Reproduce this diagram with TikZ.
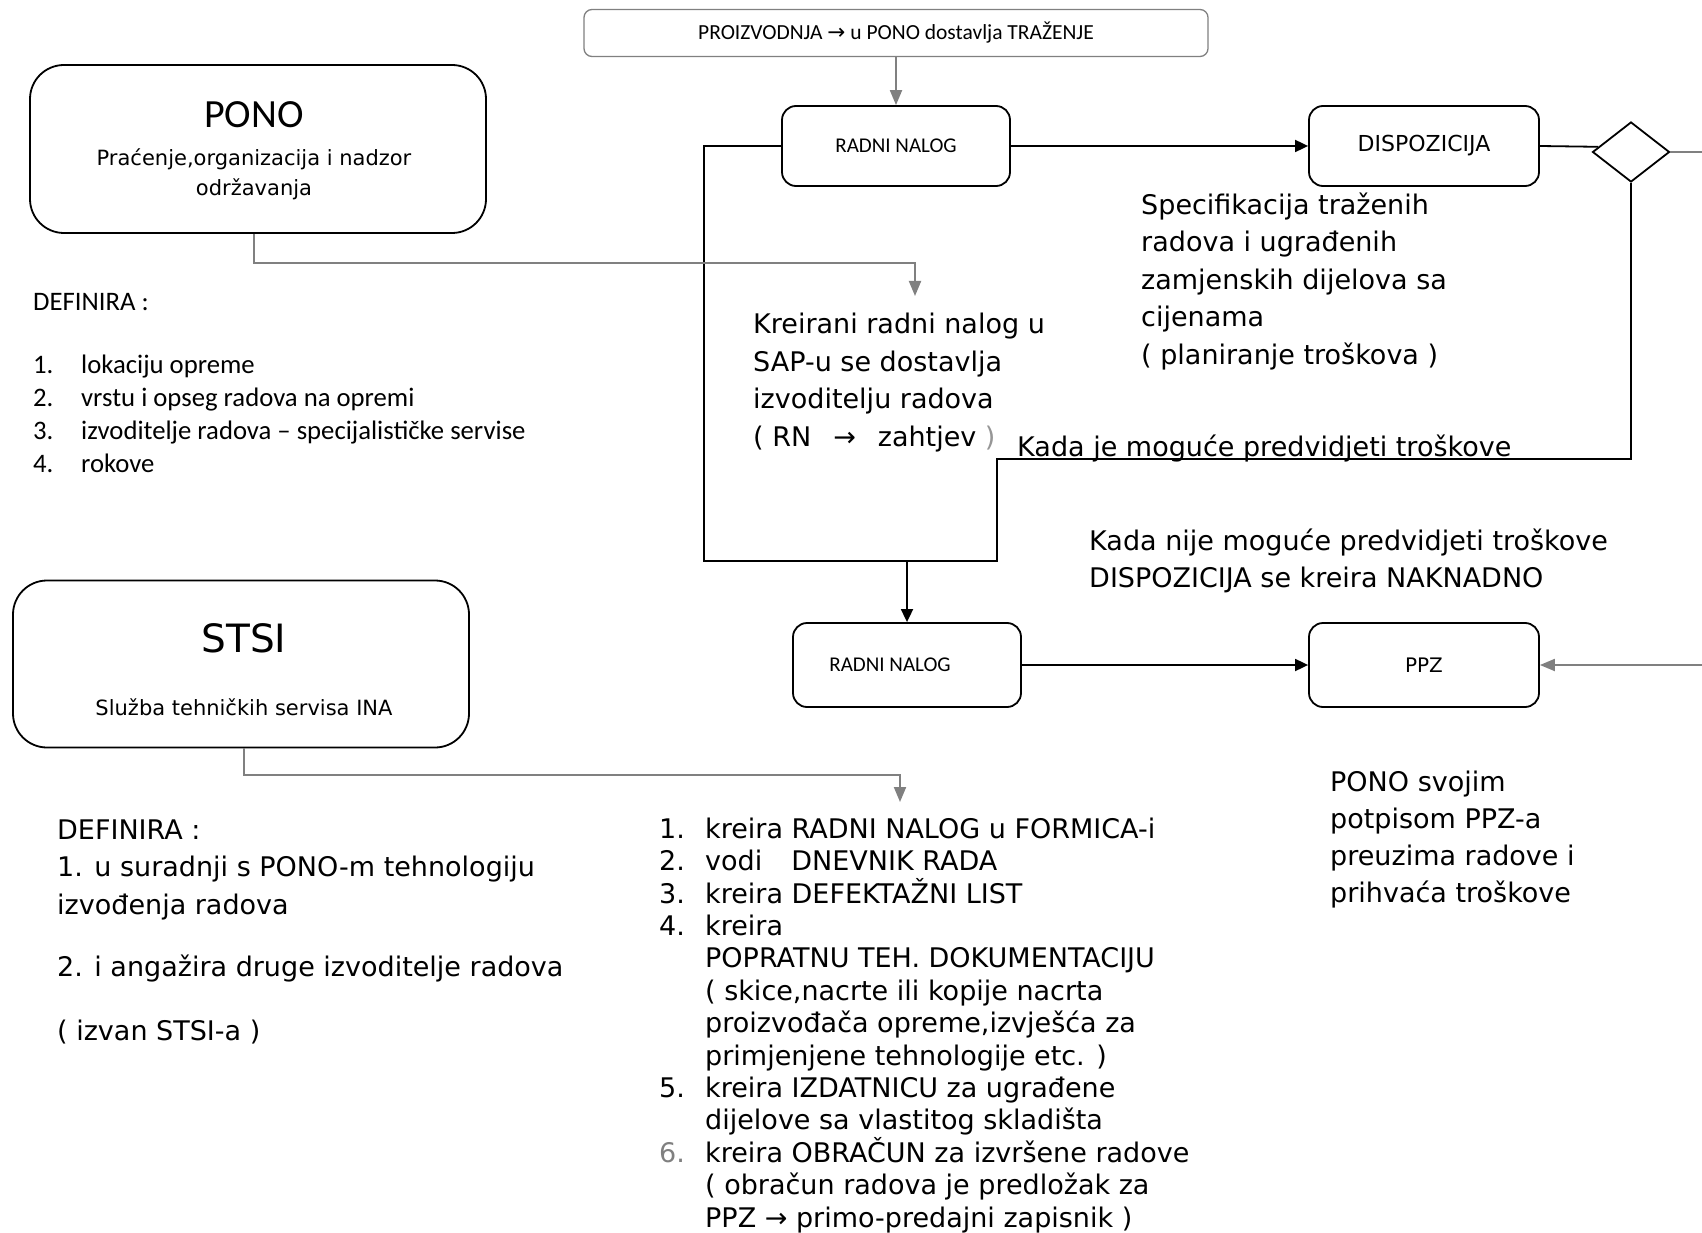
\documentclass[tikz,border=0pt]{standalone}
\usepackage{fontspec}
\setmainfont{DejaVu Sans}
\newfontfamily\calfont{Carlito}
\usetikzlibrary{shapes.geometric,arrows.meta}
\definecolor{lgray}{RGB}{128,128,128}
\definecolor{pgray}{RGB}{150,150,150}
\tikzset{
 rbox/.style={draw=black, line width=1.8pt, rounded corners=14pt, inner sep=0pt, minimum width=228pt, minimum height=80pt},
 bigbox/.style={draw=black, line width=1.8pt, rounded corners=34pt, inner sep=0pt, minimum width=456pt, minimum height=168pt},
 conn/.style={draw=black, line width=1.8pt},
 gconn/.style={draw=lgray, line width=2pt},
 bk/.style={-{Triangle[length=13pt,width=12pt]}},
 gk/.style={-{Triangle[length=15pt,width=12pt]}},
 txt/.style={anchor=base west, inner sep=0pt, align=left},
 dv/.style={font=\fontsize{27}{37.5}\selectfont},
 cal/.style={font=\calfont\fontsize{21}{25}\selectfont},
}
\begin{document}
\begin{tikzpicture}[x=1pt,y=-1pt]
\useasboundingbox[fill=white] (0,0) rectangle (1702,1233);

% boxes
\node[draw=lgray, line width=1.3pt, rounded corners=8pt, minimum width=624pt, minimum height=47pt, inner sep=0pt, font=\calfont\fontsize{21.5}{25}\selectfont] (top) at (896,33) {PROIZVODNJA {\normalfont→} u PONO dostavlja TRAŽENJE};
\node[rbox, cal] (rn1) at (896,146) {RADNI NALOG};
\node[rbox, minimum width=230pt, font=\fontsize{22}{26}\selectfont] (disp) at (1424,146) {DISPOZICIJA};
\node[draw, line width=1.8pt, diamond, minimum width=77pt, minimum height=60pt, inner sep=0pt] (dia) at (1631,152) {};
\node[rbox, minimum height=84pt, cal] (rn2) at (907,665) {RADNI NALOG\hspace*{34pt}};
\node[rbox, minimum width=230pt, minimum height=84pt, font=\fontsize{20}{24}\selectfont] (ppz) at (1424,665) {PPZ};

\node[bigbox] (pono) at (258,149) {};
\node[font=\calfont\fontsize{40}{44}\selectfont, inner sep=0pt] (ponoT) at (254,115) {PONO};
\node[font=\fontsize{21}{30}\selectfont, align=center, inner sep=0pt] (ponoS) at (254,174) {Praćenje,organizacija i nadzor\\održavanja};

\node[bigbox, minimum height=167pt] (stsi) at (241,664) {};
\node[font=\fontsize{39}{44}\selectfont, inner sep=0pt] (stsiT) at (244,638) {STSI};
\node[font=\fontsize{21}{25}\selectfont, inner sep=0pt] (stsiS) at (244,707) {Služba tehničkih servisa INA};

% connectors
\draw[gconn,gk] (top.south) -- (rn1.north);
\draw[conn,bk] (rn1.east) -- (disp.west);
\draw[conn] (disp.east) -- (dia.171);
\coordinate (diaOut) at (1702,152);
\draw[gconn] (dia.east) -- (diaOut);
\coordinate (lpA) at (704,561);
\coordinate (lpB) at (997,561);
\coordinate (lpC) at (997,459);
\draw[conn] (rn1.west) -| (lpA) -- (lpB) -- (lpC) -| (dia.south);
\draw[conn,bk] (rn2.north |- lpA) -- (rn2.north);
\draw[conn,bk] (rn2.east) -- (ppz.west);
\coordinate (ppzIn) at (1702,665);
\draw[gconn,gk] (ppzIn) -- (ppz.east);
\coordinate (ponoEnd) at (915,296);
\draw[gconn,gk] ([xshift=-4pt]pono.south) -- ++(0,29) -| (ponoEnd);
\coordinate (stsiEnd) at (900,802);
\draw[gconn,gk] ([xshift=3pt]stsi.south) -- ++(0,27) -| (stsiEnd);

% texts (base anchor = baseline of the last line)
\node[txt, font=\calfont\fontsize{26.7}{32.9}\selectfont] (pdef) at (33,310) {DEFINIRA :};
\node[txt, font=\calfont\fontsize{26.7}{32.9}\selectfont] (plist) at (33,472) {\makebox[48pt][l]{1.}lokaciju opreme\\\makebox[48pt][l]{2.}vrstu i opseg radova na opremi\\\makebox[48pt][l]{3.}izvoditelje radova – specijalističke servise\\\makebox[48pt][l]{4.}rokove};

\node[txt, dv] (kre) at (753,446) {Kreirani radni nalog u\\SAP-u se dostavlja\\izvoditelju radova\\( RN\hspace{22pt}→\hspace{22pt}zahtjev \textcolor{pgray}{)}};
\node[txt, dv] (spec) at (1141,364) {Specifikacija traženih\\radova i ugrađenih\\zamjenskih dijelova sa\\cijenama\\( planiranje troškova )};
\node[txt, dv] (kadaje) at (1017,456) {Kada je moguće predvidjeti troškove};
\node[txt, font=\fontsize{27}{37}\selectfont] (kadanije) at (1089,587) {Kada nije moguće predvidjeti troškove\\DISPOZICIJA se kreira NAKNADNO};
\node[txt, font=\fontsize{27}{37}\selectfont] (ponosv) at (1330,902) {PONO svojim\\potpisom PPZ-a\\preuzima radove i\\prihvaća troškove};

\node[txt, dv] (sdef) at (57,914) {DEFINIRA :\\1. u suradnji s PONO-m tehnologiju\\izvođenja radova};
\node[txt, dv] (s2) at (57,976) {2. i angažira druge izvoditelje radova};
\node[txt, dv] (s3) at (57,1040) {( izvan STSI-a )};

\node[txt, font=\fontsize{27}{32.4}\selectfont] (mlist) at (659,1227) {\makebox[46pt][l]{1.}kreira RADNI NALOG u FORMICA-i\\\makebox[46pt][l]{2.}vodi\hspace{29pt}DNEVNIK RADA\\\makebox[46pt][l]{3.}kreira DEFEKTAŽNI LIST\\\makebox[46pt][l]{4.}kreira\\\hspace*{46pt}POPRATNU TEH. DOKUMENTACIJU\\\hspace*{46pt}( skice,nacrte ili kopije nacrta\\\hspace*{46pt}proizvođača opreme,izvješća za\\\hspace*{46pt}primjenjene tehnologije etc. )\\\makebox[46pt][l]{5.}kreira IZDATNICU za ugrađene\\\hspace*{46pt}dijelove sa vlastitog skladišta\\\makebox[46pt][l]{\textcolor{lgray}{6.}}kreira OBRAČUN za izvršene radove\\\hspace*{46pt}( obračun radova je predložak za\\\hspace*{46pt}PPZ → primo-predajni zapisnik )};
\end{tikzpicture}
\end{document}
